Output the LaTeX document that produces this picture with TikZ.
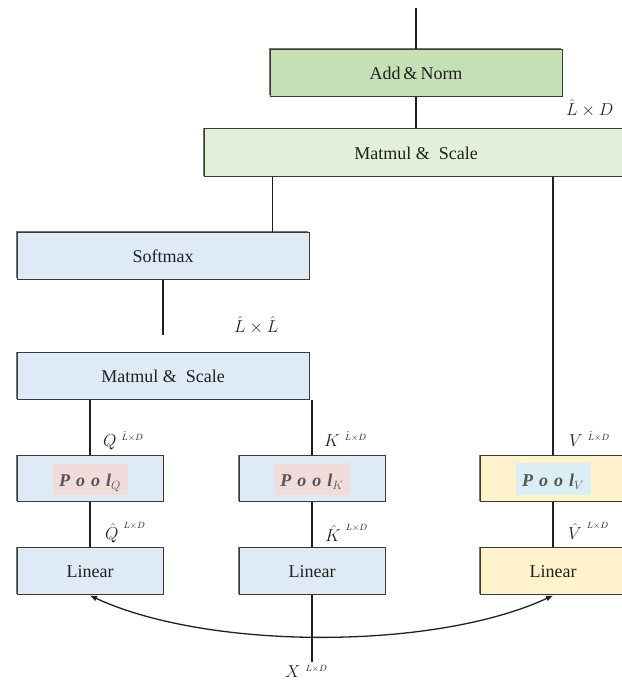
\documentclass[tikz,border=0pt]{standalone}
\usepackage{fontspec}
\setmainfont{Liberation Serif}
\usetikzlibrary{arrows.meta,positioning,calc,shadows}

\definecolor{normgreen}{HTML}{C5E0B4}
\definecolor{paleGreen}{HTML}{E2F0D9}
\definecolor{paleBlue}{HTML}{DEEBF7}
\definecolor{paleYellow}{HTML}{FFF2CC}
\definecolor{qkPink}{HTML}{F2DCDB}
\definecolor{vCyan}{HTML}{DAEEF3}
\definecolor{edgeGray}{HTML}{3A3A3A}
\definecolor{inkGray}{HTML}{202020}
\definecolor{poolInk}{HTML}{555555}

\newcommand{\poolhl}[2]{{\setlength{\fboxsep}{0pt}\colorbox{#1}{\makebox[75pt]{\rule[-8pt]{0pt}{32pt}\color{poolInk}#2}}}}
\newcommand{\pooltxt}[1]{{\bfseries\itshape P\,\,o\,\,o\,\,l}$_{#1}$}
\newcommand{\dimsup}[1]{^{\hspace{5pt}\scriptscriptstyle #1}}
\newcommand{\hatsup}[1]{^{\hspace{5pt}\raisebox{5pt}{$\scriptscriptstyle #1$}}}

\tikzset{
    blk/.style={draw=edgeGray, line width=1pt, inner sep=0pt,
        minimum height=47pt, text=inkGray,
        font=\fontsize{18}{21}\selectfont,
        drop shadow={shadow xshift=-1.3pt, shadow yshift=1.3pt, opacity=0.55, fill=black}},
    narrow/.style={blk, minimum width=146pt},
    wide/.style={blk, minimum width=292pt},
    lbl/.style={inner sep=0pt, text=inkGray, font=\fontsize{19}{21}\selectfont},
    wire/.style={draw=inkGray, line width=1.5pt},
}

\begin{document}
\begin{tikzpicture}[x=1pt, y=1pt]
    \useasboundingbox (0,0) rectangle (621,684);

    \node[wide, fill=normgreen] (addnorm) at (416,611) {Add\,\&\,Norm};
    \node[blk, fill=paleGreen, minimum width=424pt, minimum height=48pt] (mmtop) at (416,531) {Matmul \&\ \ Scale};
    \node[wide, fill=paleBlue] (softmax) at (163,428) {Softmax};
    \node[wide, fill=paleBlue] (mmlow) at (163,307.5) {Matmul \&\ \ Scale};

    \node[narrow, fill=paleBlue, minimum height=46pt] (poolq) at (90,205) {\poolhl{qkPink}{\pooltxt{Q}}};
    \node[narrow, fill=paleBlue, minimum height=46pt, right=75pt of poolq] (poolk) {\poolhl{qkPink}{\pooltxt{K}}};
    \node[narrow, fill=paleYellow, minimum height=46pt, right=94pt of poolk] (poolv) {\poolhl{vCyan}{\pooltxt{V}}};

    \node[narrow, fill=paleBlue, below=45pt of poolq] (linq) {Linear};
    \node[narrow, fill=paleBlue, below=45pt of poolk] (link) {Linear};
    \node[narrow, fill=paleYellow, below=45pt of poolv] (linv) {Linear};

    \node[lbl, anchor=base west, inner sep=3pt] (xin) at (282,6) {$X\dimsup{L\times D}$};

    \node[lbl, anchor=base west] at (566,568) {$\hat{L}\times D$};
    \node[lbl, anchor=base west] at (234,351) {$\hat{L}\times\hat{L}$};

    \node[lbl, anchor=base west] at ([xshift=13pt, yshift=9pt]poolq.north) {$Q\dimsup{\hat{L}\times D}$};
    \node[lbl, anchor=base west] at ([xshift=12pt, yshift=9pt]poolk.north) {$K\dimsup{\hat{L}\times D}$};
    \node[lbl, anchor=base west] at ([xshift=16pt, yshift=9pt]poolv.north) {$V\dimsup{\hat{L}\times D}$};
    \node[lbl, anchor=base west] at ([xshift=15pt, yshift=8pt]linq.north) {$\hat{Q}\hatsup{L\times D}$};
    \node[lbl, anchor=base west] at ([xshift=13pt, yshift=6pt]link.north) {$\hat{K}\hatsup{L\times D}$};
    \node[lbl, anchor=base west] at ([xshift=15pt, yshift=8pt]linv.north) {$\hat{V}\hatsup{L\times D}$};

    \draw[wire] (addnorm.north) -- ++(0,41);
    \draw[wire] (addnorm.south) -- (mmtop.north);
    \draw[wire] ([xshift=-37pt]softmax.north east) -- ([xshift=-37pt]softmax.north east |- mmtop.south);
    \draw[wire] (softmax.south) -- ++(0,-55);
    \draw[wire] (poolq.north) -- (poolq.north |- mmlow.south);
    \draw[wire] (poolk.north) -- (poolk.north |- mmlow.south);
    \draw[wire] (poolv.north) -- (poolv.north |- mmtop.south);
    \draw[wire] (poolq) -- (linq);
    \draw[wire] (poolk) -- (link);
    \draw[wire] (poolv) -- (linv);
    \draw[wire] (link.south |- xin.north) -- (link.south);
    \draw[wire, line width=1.3pt, {Latex[length=7pt,width=6pt]}-{Latex[length=7pt,width=6pt]}] (linq.south) to[out=-25, in=-155, looseness=0.72] (linv.south);

\end{tikzpicture}
\end{document}
